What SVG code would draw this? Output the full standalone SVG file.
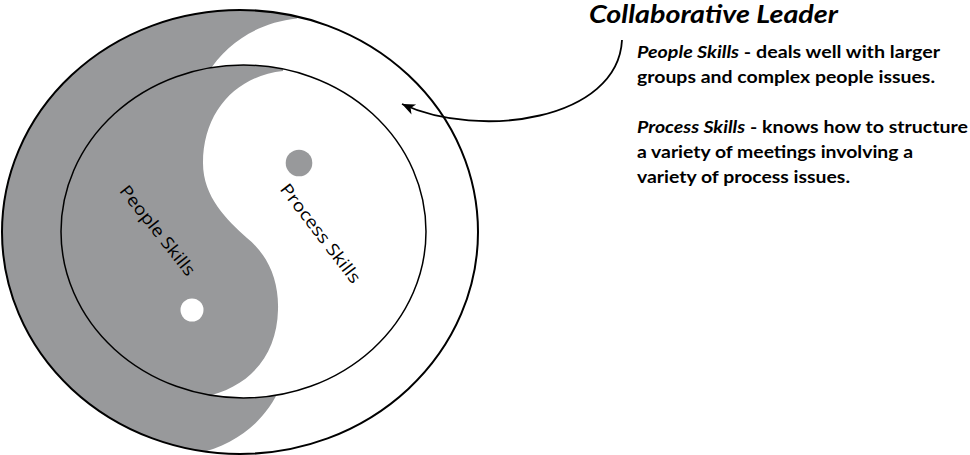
<svg xmlns="http://www.w3.org/2000/svg" xmlns:xlink="http://www.w3.org/1999/xlink" width="970" height="455" viewBox="0 0 970 455">
<style>
.gray{fill:#98999b}
.ring{fill:none;stroke:#000}
.lbl{font-family:"Open Sans",Lato,sans-serif;font-size:17px;fill:#000}
.body{font-family:Lato,"Open Sans",sans-serif;font-size:17.5px;font-weight:bold;fill:#000}
.it{font-style:italic}
.title{font-family:Lato,"Open Sans",sans-serif;font-size:24px;font-weight:bold;font-style:italic;fill:#000}
.conn{fill:none;stroke:#000;stroke-width:1.8}
</style>
<defs>
<path id="yin" d="M 283,71 C 236,76 203,112 203,163 C 203,197 227,220 247,238 C 268,255 279,280 278,310 C 277,355 250,388 203,397 L 150,440 L 20,440 L 20,30 L 283,30 Z"/>
<clipPath id="clipOuter"><ellipse cx="240" cy="232" rx="238" ry="222"/></clipPath>
<clipPath id="clipInner"><ellipse cx="243.5" cy="231.5" rx="182.5" ry="166.5"/></clipPath>
<marker id="arr" viewBox="-14 -6 15 12" markerWidth="15" markerHeight="12" refX="0" refY="0" orient="auto" markerUnits="userSpaceOnUse">
<path d="M0,0 L-13,-5.5 L-9.5,0 L-13,5.5 Z" fill="#000"/>
</marker>
</defs>

<g id="outer-circle">
<ellipse cx="240" cy="232" rx="238" ry="222" fill="#fff"/>
<g clip-path="url(#clipOuter)">
<use xlink:href="#yin" class="gray" transform="translate(248,235) scale(1.34) translate(-246.5,-232.5)"/>
</g>
</g>

<g id="inner-circle">
<ellipse cx="243.5" cy="231.5" rx="182.5" ry="166.5" fill="#fff"/>
<g clip-path="url(#clipInner)">
<use xlink:href="#yin" class="gray"/>
</g>
<circle cx="299" cy="163" r="13.3" class="gray"/>
<circle cx="192" cy="310" r="11.5" fill="#fff"/>
</g>

<g id="outlines">
<ellipse cx="243.5" cy="231.5" rx="182.5" ry="166.5" class="ring" stroke-width="1.5"/>
<ellipse cx="240" cy="232" rx="238" ry="222" class="ring" stroke-width="2"/>
</g>

<g id="people-skills-label">
<text class="lbl" x="0" y="0" text-anchor="middle" dominant-baseline="central" textLength="110" lengthAdjust="spacingAndGlyphs" transform="translate(158,230) rotate(51.5)">People Skills</text>
</g>
<g id="process-skills-label">
<text class="lbl" x="0" y="0" text-anchor="middle" dominant-baseline="central" textLength="120" lengthAdjust="spacingAndGlyphs" transform="translate(321,233) rotate(52.5)">Process Skills</text>
</g>

<g id="connectors">
<path class="conn" d="M 622,40 C 618,120 480,140 402,104" marker-end="url(#arr)"/>
</g>

<g id="description">
<text class="title" x="589" y="23" textLength="249" lengthAdjust="spacingAndGlyphs">Collaborative Leader</text>
<text class="body" x="637" y="58" textLength="303" lengthAdjust="spacingAndGlyphs"><tspan class="it">People Skills</tspan> - deals well with larger</text>
<text class="body" x="637" y="83" textLength="298" lengthAdjust="spacingAndGlyphs">groups and complex people issues.</text>
<text class="body" x="637" y="133" textLength="331" lengthAdjust="spacingAndGlyphs"><tspan class="it">Process Skills</tspan> - knows how to structure</text>
<text class="body" x="637" y="158" textLength="276" lengthAdjust="spacingAndGlyphs">a variety of meetings involving a</text>
<text class="body" x="637" y="183" textLength="213" lengthAdjust="spacingAndGlyphs">variety of process issues.</text>
</g>
</svg>
